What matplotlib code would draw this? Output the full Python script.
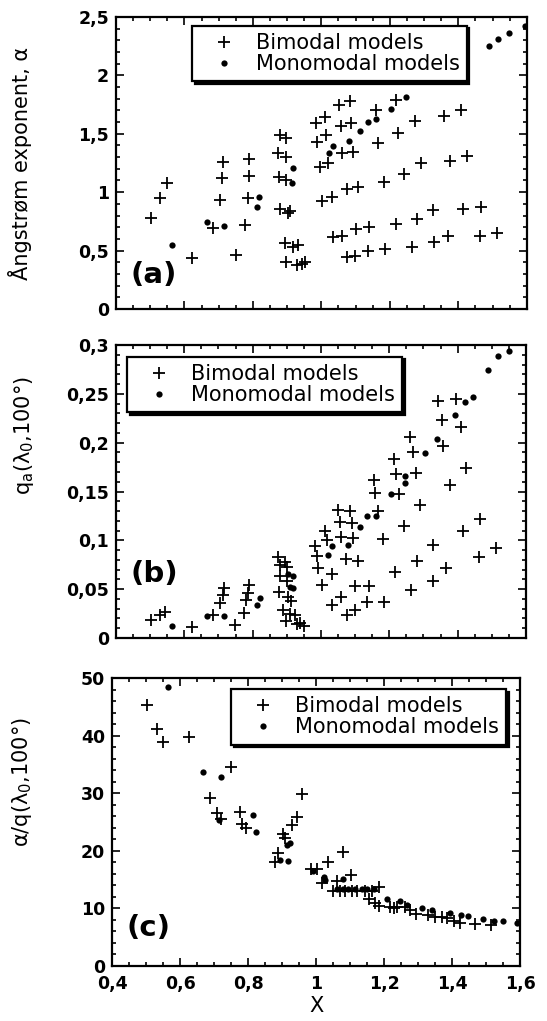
import numpy as np
import matplotlib
matplotlib.use("Agg")
import matplotlib.pyplot as plt
from matplotlib.ticker import MultipleLocator, FixedLocator, FuncFormatter

# (a) Angstrom exponent
a_bi_x = [0.502, 0.530, 0.548, 0.623, 0.684, 0.704, 0.710, 0.713, 0.750, 0.777, 0.785, 0.788, 0.789,
          0.874, 0.898, 0.877, 0.898, 0.879, 0.903, 0.908, 0.893, 0.918, 0.932, 0.898, 0.928, 0.942, 0.952,
          0.879, 0.898,
          1.059, 1.093, 0.996, 1.020, 1.003, 1.032, 1.074, 1.108, 1.182, 1.242, 1.290, 1.375, 1.426,
          1.033, 1.059, 1.101, 1.140, 1.217, 1.280, 1.326, 1.414, 1.465,
          1.075, 1.098, 1.137, 1.187, 1.265, 1.328, 1.370, 1.463, 1.512,
          1.052, 1.083, 0.984, 1.010, 1.056, 1.088, 1.159, 1.219, 1.273, 1.224, 1.166, 1.359, 1.409,
          0.988, 1.013]
a_bi_y = [0.78, 0.95, 1.076, 0.44, 0.69, 0.933, 1.12, 1.26, 0.462, 0.719, 0.948, 1.139, 1.28,
          1.333, 1.30, 1.13, 1.10, 0.853, 0.82, 0.839, 0.568, 0.533, 0.548, 0.405, 0.377, 0.385, 0.40,
          1.49, 1.461,
          1.333, 1.347, 1.218, 1.247, 0.927, 0.956, 1.025, 1.048, 1.09, 1.156, 1.247, 1.27, 1.31,
          0.614, 0.628, 0.685, 0.70, 0.728, 0.77, 0.848, 0.856, 0.876,
          0.448, 0.456, 0.499, 0.514, 0.533, 0.571, 0.628, 0.628, 0.648,
          1.747, 1.781, 1.595, 1.647, 1.567, 1.59, 1.704, 1.789, 1.612, 1.504, 1.424, 1.652, 1.704,
          1.433, 1.49]
a_mono_x = [0.564, 0.667, 0.716, 0.819, 0.811, 0.918, 0.915, 1.023, 1.489, 1.516, 1.548, 1.594,
            1.114, 1.135, 1.161, 1.202, 1.247, 1.033, 1.081]
a_mono_y = [0.548, 0.747, 0.713, 0.956, 0.87, 1.205, 1.076, 1.333, 2.254, 2.308, 2.36, 2.42,
            1.524, 1.598, 1.627, 1.712, 1.812, 1.398, 1.441]

# (b) q_a(lambda_0, 100 deg)
b_bi_x = [0.502, 0.529, 0.543, 0.623, 0.685, 0.704, 0.712, 0.717, 0.748, 0.775, 0.780, 0.787, 0.790,
          0.875, 0.895, 0.880, 0.900, 0.880, 0.900, 0.878, 0.904, 0.911, 0.890, 0.909, 0.924, 0.897,
          0.929, 0.938, 0.950,
          1.214, 1.268, 1.155, 1.219, 1.277, 1.158, 1.228, 1.426, 1.377, 1.291, 1.050, 1.085, 1.167,
          1.056, 1.090, 1.243, 1.012, 1.465, 1.416, 1.017, 1.060, 1.094, 1.182, 0.984, 0.987, 1.327,
          1.512, 1.072, 1.109, 1.280, 1.462, 0.992, 1.031, 1.218, 1.367, 1.002, 1.101, 1.140, 1.327,
          1.058, 1.263, 1.031, 1.135, 1.185, 1.099, 1.075,
          1.343, 1.394, 1.353, 1.409, 1.260, 1.358]
b_bi_y = [0.018, 0.024, 0.027, 0.011, 0.024, 0.036, 0.044, 0.051, 0.013, 0.026, 0.039, 0.046, 0.054,
          0.083, 0.078, 0.075, 0.073, 0.063, 0.058, 0.047, 0.042, 0.038, 0.029, 0.025, 0.024, 0.017,
          0.014, 0.015, 0.012,
          0.183, 0.190, 0.162, 0.168, 0.169, 0.148, 0.147, 0.174, 0.157, 0.136, 0.131, 0.130, 0.130,
          0.119, 0.118, 0.115, 0.110, 0.122, 0.110, 0.100, 0.103, 0.102, 0.101, 0.094, 0.084, 0.095,
          0.092, 0.081, 0.079, 0.079, 0.083, 0.072, 0.066, 0.068, 0.072, 0.054, 0.053, 0.053, 0.058,
          0.042, 0.049, 0.034, 0.037, 0.037, 0.029, 0.024,
          0.243, 0.245, 0.223, 0.216, 0.206, 0.197]
b_mono_x = [0.564, 0.665, 0.717, 0.812, 0.821, 0.904, 0.919, 0.909, 0.917,
            1.551, 1.519, 1.490, 1.423, 1.445, 1.392, 1.341, 1.304, 1.247, 1.246, 1.204, 1.135,
            1.161, 1.114, 1.033, 1.078, 1.021]
b_mono_y = [0.012, 0.023, 0.023, 0.034, 0.041, 0.066, 0.064, 0.052, 0.051,
            0.294, 0.289, 0.274, 0.242, 0.247, 0.228, 0.204, 0.189, 0.166, 0.159, 0.147, 0.125,
            0.125, 0.114, 0.094, 0.095, 0.085]

# (c) alpha / q
c_bi_x = [0.504, 0.531, 0.549, 0.626, 0.750, 0.688, 0.708, 0.720, 0.776, 0.781, 0.794, 0.902,
          0.879, 0.889, 0.909, 0.929, 0.943, 0.958, 1.080, 1.036, 0.984, 1.002, 1.102, 1.017, 1.061,
          1.051, 1.071, 1.085, 1.105, 1.120, 1.144, 1.164, 1.186, 1.157, 1.174, 1.184, 1.218, 1.228,
          1.237, 1.262, 1.276, 1.294, 1.330, 1.350, 1.369, 1.384, 1.406, 1.424, 1.468, 1.515]
c_bi_y = [45.4, 41.1, 38.9, 39.8, 34.5, 29.1, 26.5, 25.6, 26.8, 24.7, 23.9, 23.0,
          18.1, 19.6, 22.2, 24.5, 25.9, 29.8, 19.8, 18.0, 16.8, 16.8, 15.8, 14.4, 14.8,
          13.0, 13.0, 13.0, 13.0, 13.0, 13.0, 13.0, 13.7, 11.6, 10.9, 10.4, 10.3, 10.0,
          10.2, 10.2, 9.7, 9.1, 8.85, 8.45, 8.45, 8.28, 7.86, 7.41, 7.29, 7.1]
c_mono_x = [0.564, 0.669, 0.720, 0.715, 0.814, 0.824, 0.893, 0.917, 0.914, 0.924, 0.990, 1.022,
            1.026, 1.080, 1.061, 1.080, 1.095, 1.115, 1.134, 1.149, 1.169, 1.208, 1.247, 1.267,
            1.311, 1.340, 1.394, 1.426, 1.448, 1.490, 1.522, 1.551, 1.592]
c_mono_y = [48.5, 33.6, 32.8, 25.3, 26.3, 23.3, 18.4, 18.3, 21.0, 21.3, 16.5, 15.4,
            14.9, 15.1, 13.4, 13.4, 13.4, 13.4, 13.4, 13.4, 13.4, 11.6, 11.2, 10.6,
            10.0, 9.7, 9.15, 8.85, 8.68, 8.1, 7.86, 7.86, 7.5]

x_ticks = [0.4, 0.6, 0.8, 1.0, 1.2, 1.4, 1.6]

plt.rcParams["font.family"] = ["DejaVu Sans"]


def comma(v, pos):
    s = f"{v:.2f}".rstrip("0").rstrip(".")
    return s.replace(".", ",")


fig = plt.figure(figsize=(5.47, 10.21), dpi=100)
ax_a = fig.add_axes([0.212, 0.6974, 0.751, 0.286])
ax_b = fig.add_axes([0.212, 0.3751, 0.7495, 0.287])
ax_c = fig.add_axes([0.2048, 0.0539, 0.746, 0.282])

panels = [
    (ax_a, a_bi_x, a_bi_y, a_mono_x, a_mono_y, (0, 2.5), 0.5, 0.1, "(a)", 0.09,
     "Ångstrøm exponent, α", 0.5, -0.205, (0.185, 0.97)),
    (ax_b, b_bi_x, b_bi_y, b_mono_x, b_mono_y, (0, 0.3), 0.05, 0.01, "(b)", 0.19,
     r"q$_\mathregular{a}$(λ$_\mathregular{0}$,100°)", 0.69, -0.195, (0.027, 0.96)),
    (ax_c, c_bi_x, c_bi_y, c_mono_x, c_mono_y, (0, 50), 10, 2, "(c)", 0.105,
     r"α/q(λ$_\mathregular{0}$,100°)", 0.64, -0.19, (0.292, 0.962)),
]

for ax, bx, by, mx, my, ylim, ymaj, ymin, tag, tag_y, ylab, ylab_y, ylab_x, leg_xy in panels:
    ax.plot(bx, by, "+", color="black", ms=9, mew=1.3, label="Bimodal models")
    ax.plot(mx, my, "o", color="black", ms=4.5, mew=0, label="Monomodal models")
    ax.set_xlim(0.4, 1.6)
    ax.set_ylim(*ylim)
    ax.xaxis.set_major_locator(FixedLocator(x_ticks))
    ax.xaxis.set_minor_locator(MultipleLocator(0.05))
    ax.yaxis.set_major_locator(MultipleLocator(ymaj))
    ax.yaxis.set_minor_locator(MultipleLocator(ymin))
    ax.yaxis.set_major_formatter(FuncFormatter(comma))
    ax.xaxis.set_major_formatter(FuncFormatter(comma))
    ax.tick_params(which="both", direction="in", top=True, right=True, width=1.2,
                   labelsize=12.5)
    ax.tick_params(axis="y", pad=5)
    ax.tick_params(axis="x", pad=6.5)
    ax.tick_params(which="major", length=5.5)
    ax.tick_params(which="minor", length=3)
    for lbl in ax.get_yticklabels() + ax.get_xticklabels():
        lbl.set_fontweight("bold")
    for sp in ax.spines.values():
        sp.set_linewidth(1.6)
    ax.text(0.035, tag_y, tag, transform=ax.transAxes, fontsize=21, fontweight="bold",
            va="baseline", ha="left")
    ax.set_ylabel(ylab, fontsize=15)
    ax.yaxis.set_label_coords(ylab_x, ylab_y)
    leg = ax.legend(loc="upper left", bbox_to_anchor=leg_xy, borderaxespad=0, fontsize=15,
                    frameon=True, fancybox=False, edgecolor="black", handlelength=2.4,
                    handletextpad=0.3, borderpad=0.35, labelspacing=0.05,
                    shadow={"color": "black", "alpha": 1})
    leg.get_frame().set_linewidth(1.6)

ax_a.tick_params(labelbottom=False)
ax_b.tick_params(labelbottom=False)
ax_c.set_xlabel("X", fontsize=15, labelpad=2)

fig.savefig("out.png", dpi=100)
